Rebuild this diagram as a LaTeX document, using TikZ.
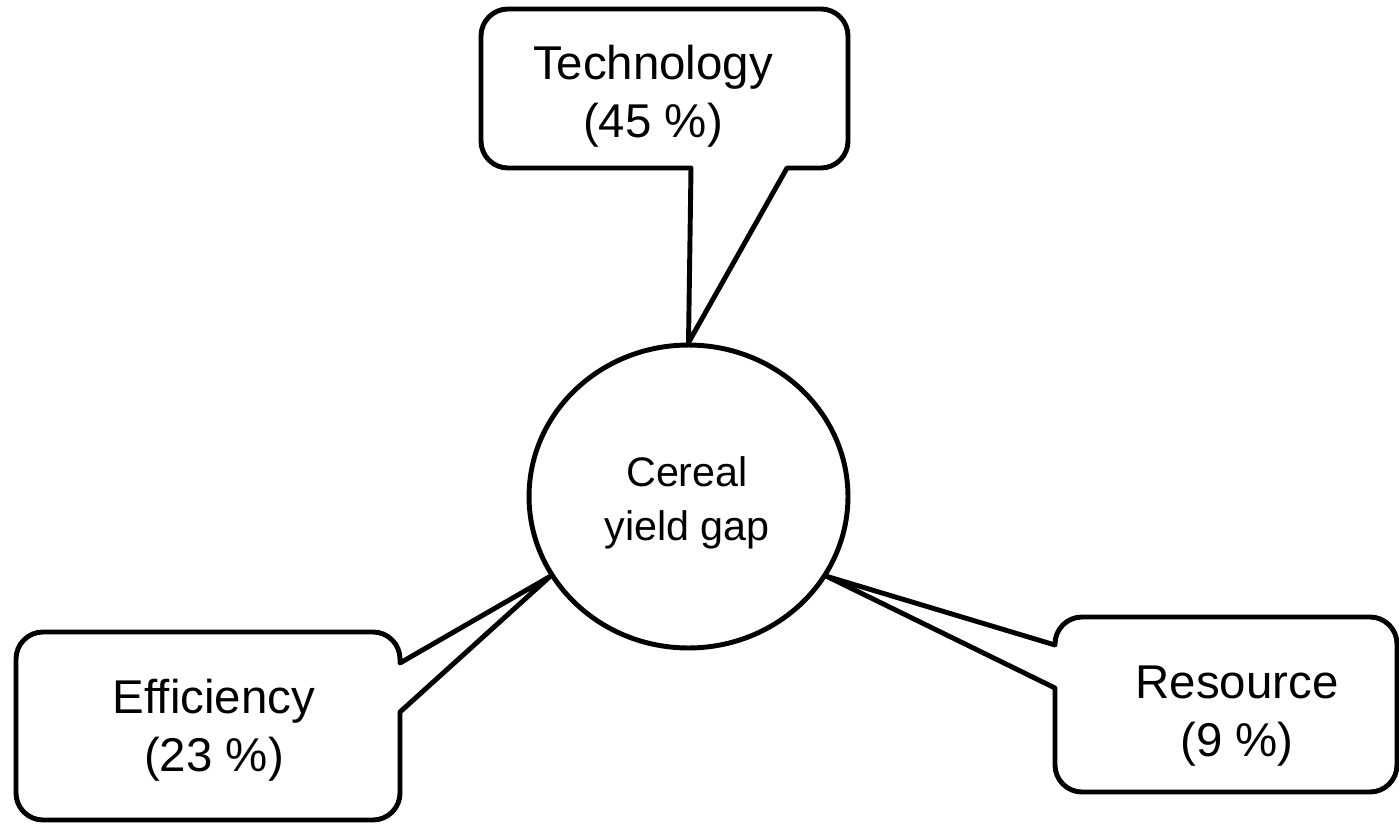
\documentclass[tikz,border=0pt]{standalone}
\usepackage{fontspec}
\setmainfont{Liberation Sans}
\usetikzlibrary{shapes.geometric, positioning}

\begin{document}
\begin{tikzpicture}[x=0.02cm, y=-0.02cm, line width=2.8pt, line join=round,
  lbl/.style={align=center, font=\fontsize{27}{33}\selectfont, inner sep=0pt}]
  \useasboundingbox (0,0) rectangle (1399,824);

  \node[ellipse, draw, minimum width=6.38cm, minimum height=6.06cm, inner sep=0pt] (gap) at (688.5,496.5) {};
  \node[align=center, inner sep=0pt, font=\fontsize{23.5}{30.5}\selectfont] (gaptxt) at (687,503) {Cereal\\yield gap};

  \node[lbl] (tech) at (653,96) {Technology\\(45 \%)};
  \node[lbl] (eff) at (214,730) {Efficiency\\(23 \%)};
  \node[lbl] (res) at (1237,716) {Resource\\(9 \%)};

  \draw (gap.north) -- (691,168) [rounded corners=0.54cm] -- (481,168) -- (481,9)
    -- (848,9) -- (848,168) [sharp corners] -- (787,168) -- cycle;
  \draw (gap.210) -- (400,663) [rounded corners=0.54cm] -- (400,632) -- (16,632)
    -- (16,820) -- (400,820) [sharp corners] -- (400,712) -- cycle;
  \draw (gap.330) -- (1055,645) [rounded corners=0.54cm] -- (1055,617) -- (1397,617)
    -- (1397,792) -- (1055,792) [sharp corners] -- (1055,688) -- cycle;
\end{tikzpicture}
\end{document}
